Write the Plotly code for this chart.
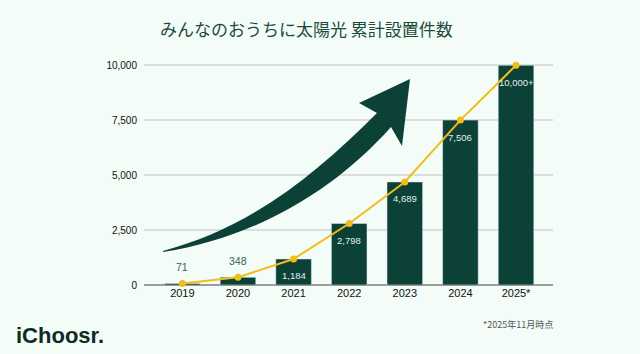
import plotly.graph_objects as go

years = ["2019", "2020", "2021", "2022", "2023", "2024", "2025*"]
installs = [71, 348, 1184, 2798, 4689, 7506, 10000]
labels = ["71", "348", "1,184", "2,798", "4,689", "7,506", "10,000+"]
label_inside = [False, False, True, True, True, True, True]
yticks = [0, 2500, 5000, 7500, 10000]
yticklabels = ["0", "2,500", "5,000", "7,500", "10,000"]

BG = "#F3FCF7"
GREEN = "#0B4136"
YELLOW = "#F2BD1B"

# plot-area geometry in pixels (for the decorative arrow)
L, R, T, B = 144, 553, 55, 285


def p(x, y):
    return "%.4f,%.4f" % ((x - L) / (R - L), (B - y) / (B - T))


path = ("M " + p(163, 251)
        + " C " + p(250, 228) + " " + p(315, 175) + " " + p(377, 113)
        + " L " + p(359, 103) + " L " + p(410, 79) + " L " + p(402, 146)
        + " L " + p(391, 127)
        + " C " + p(335, 190) + " " + p(255, 238) + " " + p(163, 252)
        + " Z")

fig = go.Figure()
fig.add_trace(go.Bar(
    x=years, y=installs, marker_color=GREEN, width=0.64,
    hoverinfo="skip",
))
fig.add_trace(go.Scatter(
    x=years, y=installs, mode="lines+markers",
    line=dict(color=YELLOW, width=2),
    marker=dict(color=YELLOW, size=7),
    cliponaxis=False, hoverinfo="skip",
))

fig.add_shape(type="path", xref="paper", yref="paper", path=path,
              fillcolor=GREEN, line=dict(width=0), layer="above")

annots = []
for i, (v, lab, ins) in enumerate(zip(installs, labels, label_inside)):
    annots.append(dict(
        x=i, y=v, xref="x", yref="y", text=lab, showarrow=False,
        xanchor="center", yanchor="middle", yshift=-17 if ins else 16,
        font=dict(family="Liberation Sans", size=9.5 if ins else 10.5,
                  color="#E3EFEA" if ins else "#3A6357"),
    ))

annots += [
    dict(text="みんなのおうちに太陽光 累計設置件数", xref="paper", yref="paper",
         x=(306 - L) / (R - L), y=(B - 28) / (B - T), xanchor="center", yanchor="middle",
         showarrow=False, font=dict(family="Noto Sans CJK JP", size=17, color="#1E4A3E")),
    dict(text="iChoosr.", xref="paper", yref="paper",
         x=(14 - L) / (R - L), y=(B - 335) / (B - T), xanchor="left", yanchor="middle",
         showarrow=False, font=dict(family="Liberation Sans", size=22, color="#0E2B24",
                                    weight=600)),
    dict(text="*2025年11月時点", xref="paper", yref="paper",
         x=(481 - L) / (R - L), y=(B - 324) / (B - T), xanchor="left", yanchor="middle",
         showarrow=False, font=dict(family="Noto Sans CJK JP", size=9, color="#555555")),
]

fig.update_layout(
    width=640, height=354,
    margin=dict(l=L, r=640 - R, t=T, b=354 - B),
    paper_bgcolor=BG, plot_bgcolor=BG,
    showlegend=False,
    font=dict(family="Liberation Sans", color="#222222"),
    xaxis=dict(type="category", range=[-0.69, 6.665], showgrid=False,
               showline=False, ticks="", tickfont=dict(size=11, color="#111111"),
               fixedrange=True),
    yaxis=dict(range=[0, 10469], tickvals=yticks, ticktext=yticklabels,
               showgrid=True, gridcolor="#DADDDB", gridwidth=1.5,
               zeroline=True, zerolinecolor="#9A9C9B", zerolinewidth=2,
               tickfont=dict(size=10, color="#111111"), ticks="",
               ticklabelstandoff=6, fixedrange=True),
    annotations=annots,
)

fig.write_html("out.html")
